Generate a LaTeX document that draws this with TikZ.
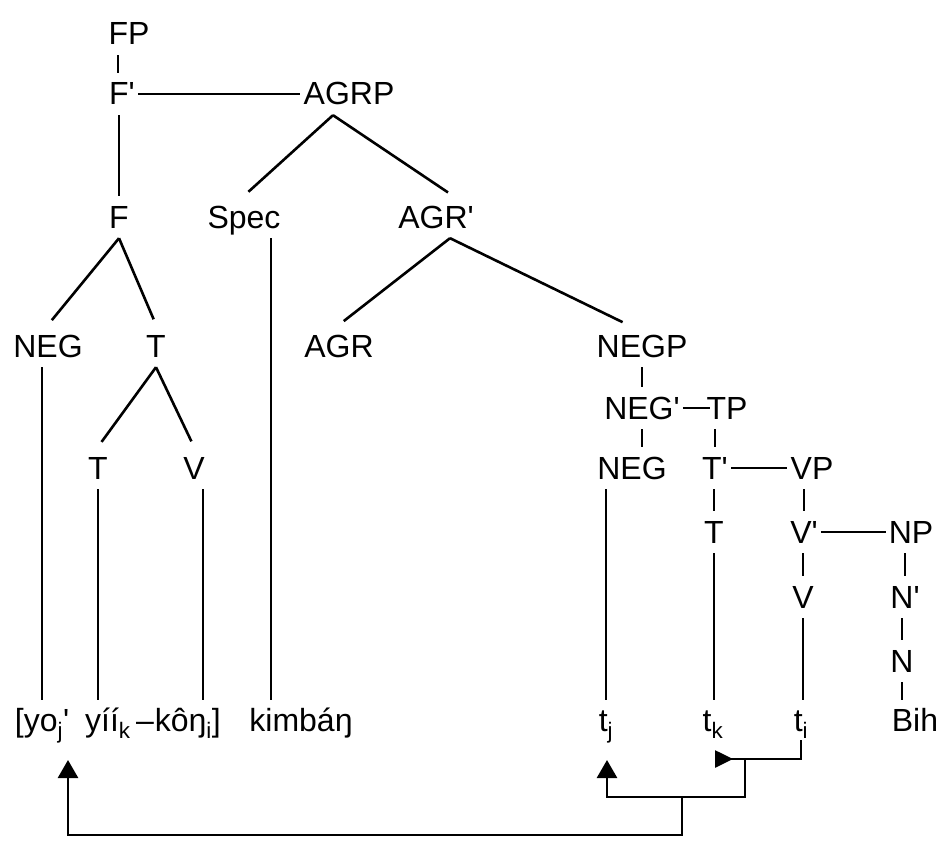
\documentclass[tikz,border=0pt]{standalone}
\usepackage{fontspec}
\setmainfont{Liberation Sans}
\usetikzlibrary{arrows.meta, positioning}
\newcommand{\prm}{\textquotesingle}

\begin{document}
\begin{tikzpicture}[
    x=1pt, y=-1pt,
    >={Triangle[width=20pt, length=18pt]},
    font=\fontsize{32}{38}\selectfont,
    lab/.style={inner xsep=3pt, inner ysep=10pt, text height=22pt, text depth=0pt},
    word/.style={lab, inner ysep=9pt},
    branch/.style={line width=2.6pt},
    fork/.style={branch, shorten >=6pt},
    mv/.style={->, line width=2.6pt},
    mvback/.style={-{Triangle[reversed, width=17pt, length=18pt]}, line width=2.6pt}
  ]
    \useasboundingbox (0,0) rectangle (951,843);
    \node[lab] (fp) at (129,34) {FP};
    \node[lab] (fbar) at (122,94) {F\prm};
    \node[lab] (agrp) at (349,94) {AGRP};
    \node[lab] (f) at (119,217) {F};
    \node[lab] (spec) at (244,217) {Spec};
    \node[lab] (agrbar) at (436,217) {AGR\prm};
    \node[lab] (negl) at (48,346) {NEG};
    \node[lab] (tl) at (156,346) {T};
    \node[lab] (agr) at (339,346) {AGR};
    \node[lab] (negp) at (642,346) {NEGP};
    \node[lab] (negbar) at (642,408) {NEG\prm};
    \node[lab] (tp) at (727,408) {TP};
    \node[lab] (tt) at (98,468) {T};
    \node[lab] (vl) at (194,468) {V};
    \node[lab] (negr) at (632,468) {NEG};
    \node[lab] (tbar) at (715,468) {T\prm};
    \node[lab] (vp) at (812,468) {VP};
    \node[lab] (tr) at (714,532) {T};
    \node[lab] (vbar) at (804,532) {V\prm};
    \node[lab] (np) at (911,532) {NP};
    \node[lab] (vr) at (803,597) {V};
    \node[lab] (nbar) at (905,597) {N\prm};
    \node[lab] (nn) at (902,661) {N};
    \node[word] (yo) at (42,720) {[yo\textsubscript{j}\prm};
    \node[word] (yii) at (153,720) {yíí\textsubscript{k}\,–\hspace{1pt}kôŋ\textsubscript{i}]};
    \node[word] (kimb) at (301,720) {kimbáŋ};
    \node[word] (tj) at (606,720) {t\textsubscript{j}};
    \node[word] (tk) at (713,720) {t\textsubscript{k}};
    \node[word] (ti) at (801,720) {t\textsubscript{i}};
    \node[word] (bih) at (915,720) {Bih};
    \draw[branch] ([xshift=-4pt]fbar.north) -- ([xshift=-4pt]fbar.north |- fp.south);
    \draw[branch] (fbar) -- (agrp);
    \draw[branch] (f.north) -- (f.north |- fbar.south);
    \draw[fork] ([xshift=-16pt]agrp.south) -- (spec.north);
    \draw[fork] ([xshift=-16pt]agrp.south) -- ([xshift=17pt]agrbar.north);
    \draw[fork] (f.south) -- (negl.north);
    \draw[fork] (f.south) -- (tl.north);
    \draw[fork] ([xshift=14pt]agrbar.south) -- (agr.north);
    \draw[fork] ([xshift=14pt]agrbar.south) -- ([xshift=-14pt]negp.north);
    \draw[fork] (tl.south) -- (tt.north);
    \draw[fork] (tl.south) -- (vl.north);
    \draw[branch] (negp) -- (negbar);
    \draw[branch] (negbar.east) -- ([xshift=7pt]tp.west);
    \draw[branch] (negbar.south) -- (negbar.south |- negr.north);
    \draw[branch] (tbar.north) -- (tbar.north |- tp.south);
    \draw[branch] (tbar) -- (vp);
    \draw[branch] (tr.north) -- (tr.north |- tbar.south);
    \draw[branch] (vbar.north) -- (vbar.north |- vp.south);
    \draw[branch] (vbar) -- (np);
    \draw[branch] (vr.north) -- (vr.north |- vbar.south);
    \draw[branch] (nbar.north) -- (nbar.north |- np.south);
    \draw[branch] (nn.north) -- (nn.north |- nbar.south);
    \draw[branch] (nn.south) -- (nn.south |- bih.north);
    \draw[branch] (yo.north) -- (yo.north |- negl.south);
    \draw[branch] (tt.south) -- (tt.south |- yii.north);
    \draw[branch] ([xshift=9pt]vl.south) -- ([xshift=9pt]vl.south |- yii.north);
    \draw[branch] ([xshift=27pt]spec.south) -- ([xshift=27pt]spec.south |- kimb.north);
    \draw[branch] (tj.north) -- (tj.north |- negr.south);
    \draw[branch] (tr.south) -- (tr.south |- tk.north);
    \draw[branch] (vr.south) -- (vr.south |- ti.north);
    \coordinate (jn1) at (682,797);
    \coordinate (jn2) at (745,759);
    \coordinate (yoend) at (68,760);
    \coordinate (tjend) at (607,760);
    \coordinate (tkend) at (715,759);
    \draw[mv] (jn1) -- ++(0,38) -| (yoend);
    \draw[mv] (jn2) |- (tjend |- jn1) -- (tjend);
    \draw[mvback] (ti.south) |- (tkend);
  \end{tikzpicture}
\end{document}
